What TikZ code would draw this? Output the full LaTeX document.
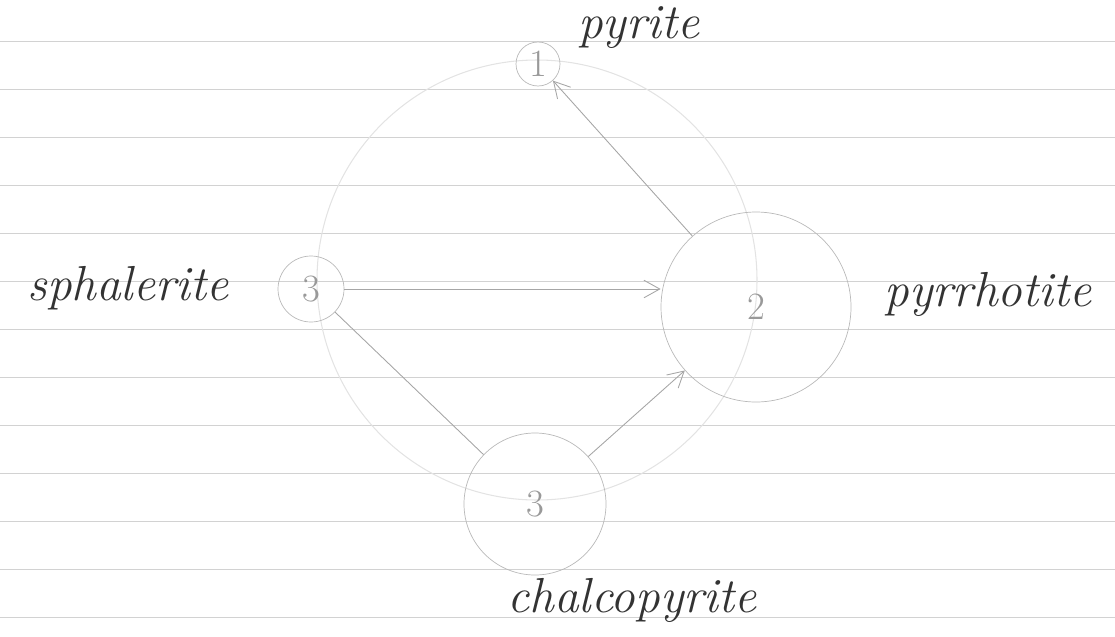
\documentclass[tikz,border=0pt]{standalone}
\usetikzlibrary{arrows.meta, positioning, calc}

\begin{document}
\begin{tikzpicture}[
  x=0.02cm, y=-0.02cm,
  mineral/.style={draw=gray!55, circle, inner sep=0pt, text=gray!80, font=\fontsize{22}{24}\selectfont},
  lbl/.style={font=\fontsize{28}{32}\selectfont\itshape, text=black!80, inner sep=0pt},
  flow/.style={draw=gray!70, line width=0.5pt, -{Straight Barb[length=9pt, width=10pt]}},
  link/.style={draw=gray!70, line width=0.5pt}
]
\useasboundingbox (0,0) rectangle (1115,636);

% ---- Lined paper ----
\foreach \ly in {41,89,...,617}
  \draw[gray!35, line width=0.4pt] (0,\ly) -- (1115,\ly);

% ---- Faint guide circle ----
\draw[gray!22, line width=0.6pt] (537,280) circle[radius=220];

% ---- Minerals ----
\node[mineral, minimum size=44*0.02cm] (pyrite) at (538,64) {1};
\node[mineral, minimum size=66*0.02cm] (sphal) at (311,289) {3};
\node[mineral, minimum size=190*0.02cm] (pyrr) at (756,307) {2};
\node[mineral, minimum size=142*0.02cm] (chalco) at (535,504) {3};

% ---- Labels ----
\node[lbl, anchor=base west] (pyritelbl) at (578,38) {pyrite};
\node[lbl] (sphallbl) at (128,288) {sphalerite};
\node[lbl] (pyrrlbl) at (988,294) {pyrrhotite};
\node[lbl] (chalcolbl) at (632,600) {chalcopyrite};

% ---- Connectors ----
\draw[flow] (pyrr) -- (pyrite);
\draw[flow] (sphal.east) -- (sphal.east -| pyrr.west);
\draw[link] (sphal) -- (chalco);
\draw[flow] (chalco) -- (pyrr);

\end{tikzpicture}
\end{document}
